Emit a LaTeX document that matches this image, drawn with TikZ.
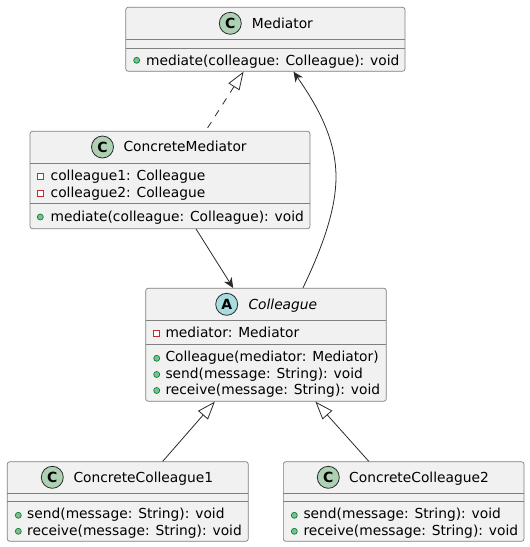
\documentclass[tikz,border=0pt]{standalone}
\usepackage{fontspec}
\setmainfont{DejaVu Sans}
\usetikzlibrary{arrows.meta}
\definecolor{boxfill}{HTML}{F1F1F1}
\definecolor{boxline}{HTML}{7F7F7F}
\definecolor{lineink}{HTML}{2A2A2A}
\definecolor{classspot}{HTML}{ADD1B2}
\definecolor{abstractspot}{HTML}{A9DCDF}
\definecolor{pubfill}{HTML}{84BE84}
\definecolor{publine}{HTML}{038048}
\definecolor{privline}{HTML}{C82930}
\tikzset{
    classbox/.style={draw=boxline, fill=boxfill, line width=0.7pt, rounded corners=2.5pt, minimum width=#1, inner sep=0pt},
    spot/.style={circle, draw=lineink, line width=0.8pt, minimum size=22pt, inner sep=0pt, font=\bfseries\fontsize{14}{16}\selectfont},
    title/.style={anchor=base west, inner sep=0pt, font=\fontsize{13.8}{16}\selectfont},
    member/.style={anchor=base west, inner sep=0pt, font=\fontsize{13.8}{16}\selectfont},
    sepline/.style={draw=boxline, line width=0.7pt},
    pubdot/.style={draw=publine, fill=pubfill, line width=0.7pt},
    privdot/.style={draw=privline, fill=white, line width=0.8pt},
    link/.style={draw=lineink, line width=0.8pt},
    hollow/.style={{Triangle[open, fill=white, length=18pt, width=13pt]}-},
    pointed/.style={-{Stealth[length=10pt, width=9pt, inset=3pt]}}
}
\begin{document}
\begin{tikzpicture}[x=1pt, y=-1pt]
    \useasboundingbox (0,0) rectangle (530,547);

    % Mediator
    \node[classbox=279.3pt, minimum height=64pt] (mediator) at (265.4,39.3) {};
    \node[spot, fill=classspot] (mediatorspot) at (230.3,23.3) {C};
    \node[title] (mediatortitle) at (251.7,28) {Mediator};
    \draw[sepline] (126,39.5) -- (405,39.5);
    \draw[sepline] (126,48.3) -- (405,48.3);
    \filldraw[pubdot] (136.7,60.3) circle (3);
    \node[member] (mediatormediate) at (146,65) {mediate(colleague: Colleague): void};

    % ConcreteMediator
    \node[classbox=280pt, minimum height=97.4pt] (concretemediator) at (170,180) {};
    \node[spot, fill=classspot] (concretespot) at (102.5,147) {C};
    \node[title] (concretetitle) at (123.3,151.7) {ConcreteMediator};
    \draw[sepline] (30,163.3) -- (310,163.3);
    \draw[sepline] (30,203.3) -- (310,203.3);
    \draw[privdot] (37.3,173) rectangle (43.3,179);
    \draw[privdot] (37.3,190.3) rectangle (43.3,196.3);
    \filldraw[pubdot] (40.3,217) circle (3);
    \node[member] (concretefieldone) at (50.5,180) {colleague1: Colleague};
    \node[member] (concretefieldtwo) at (50.5,197) {colleague2: Colleague};
    \node[member] (concretemediate) at (50.5,221) {mediate(colleague: Colleague): void};

    % Colleague
    \node[classbox=240.6pt, minimum height=113pt] (colleague) at (266,344.8) {};
    \node[spot, fill=abstractspot] (colleaguespot) at (226.7,304.3) {A};
    \node[title, font=\itshape\fontsize{13.8}{16}\selectfont] (colleaguetitle) at (248.3,309) {Colleague};
    \draw[sepline] (145.7,320.7) -- (386.3,320.7);
    \draw[sepline] (145.7,344.3) -- (386.3,344.3);
    \draw[privdot] (153.7,330) rectangle (159.7,336);
    \foreach \y in {358.3,374.5,390.5}
        \filldraw[pubdot] (156.7,\y) circle (3);
    \node[member] (colleaguefield) at (165.3,337.3) {mediator: Mediator};
    \node[member] (colleaguemake) at (165.3,361) {Colleague(mediator: Mediator)};
    \node[member] (colleaguesend) at (165.3,378) {send(message: String): void};
    \node[member] (colleaguereceive) at (165.3,394) {receive(message: String): void};

    % ConcreteColleague1
    \node[classbox=241pt, minimum height=79.6pt] (concreteone) at (127.8,501.5) {};
    \node[spot, fill=classspot] (onespot) at (52.3,477.3) {C};
    \node[title] (onetitle) at (73.3,482.3) {ConcreteColleague1};
    \draw[sepline] (7.3,493.3) -- (248.3,493.3);
    \draw[sepline] (7.3,501.3) -- (248.3,501.3);
    \filldraw[pubdot] (18.3,515.3) circle (3);
    \filldraw[pubdot] (18.3,531.3) circle (3);
    \node[member] (onesend) at (27,518.3) {send(message: String): void};
    \node[member] (onereceive) at (27,535) {receive(message: String): void};

    % ConcreteColleague2
    \node[classbox=240.7pt, minimum height=79.6pt] (concretetwo) at (403.7,501.5) {};
    \node[spot, fill=classspot] (twospot) at (328.3,477.3) {C};
    \node[title] (twotitle) at (349,482.3) {ConcreteColleague2};
    \draw[sepline] (283.3,493.3) -- (524,493.3);
    \draw[sepline] (283.3,501.3) -- (524,501.3);
    \filldraw[pubdot] (294.3,515.3) circle (3);
    \filldraw[pubdot] (294.3,531.3) circle (3);
    \node[member] (twosend) at (303.3,518.3) {send(message: String): void};
    \node[member] (tworeceive) at (303.3,535) {receive(message: String): void};

    % Relaciones
    \draw[link, hollow, dash pattern=on 7pt off 7pt] (mediator.236) -- (concretemediator.54);
    \draw[link, pointed] (colleague.57.5) .. controls (326,240) and (336,205) .. (336,177)
        .. controls (336,135) and (313,100) .. (mediator.311);
    \draw[link, pointed] (concretemediator.298.7) -- (colleague.120.5);
    \draw[link, hollow] (colleague.228.3) -- (concreteone.49);
    \draw[link, hollow] (colleague.311) -- (concretetwo.131.1);
\end{tikzpicture}
\end{document}
